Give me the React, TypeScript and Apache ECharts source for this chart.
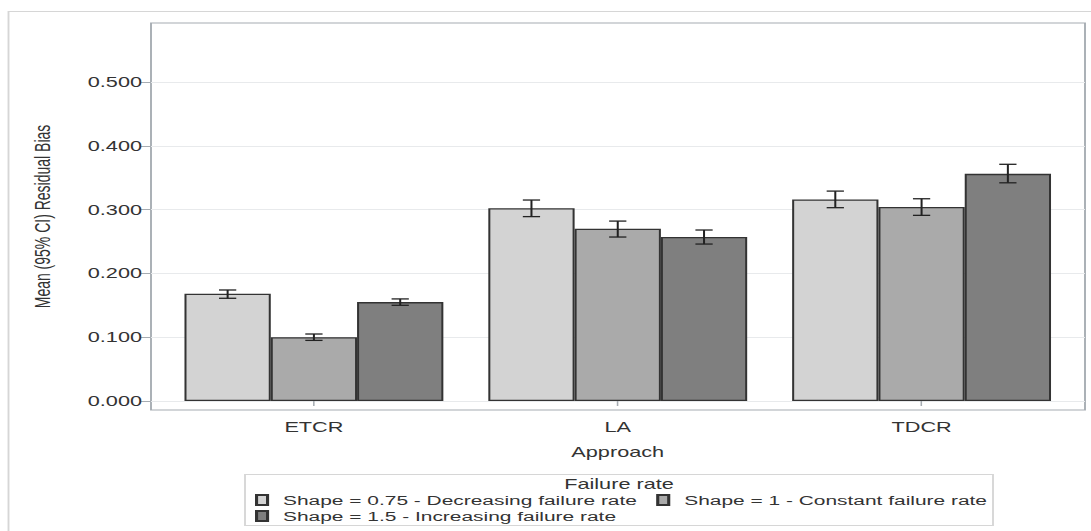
import React, { useEffect, useRef } from "react";
import * as echarts from "echarts";

// Approaches on the x axis
const categories = ["ETCR", "LA", "TDCR"];

// Failure-rate groups
const seriesNames = [
  "Shape = 0.75 - Decreasing failure rate",
  "Shape = 1 - Constant failure rate",
  "Shape = 1.5 - Increasing failure rate",
];

// Mean residual bias and 95% CI per group
const mean075 = [0.168, 0.302, 0.316];
const lower075 = [0.161, 0.289, 0.303];
const upper075 = [0.174, 0.315, 0.329];

const mean1 = [0.1, 0.27, 0.304];
const lower1 = [0.095, 0.257, 0.291];
const upper1 = [0.105, 0.282, 0.317];

const mean15 = [0.155, 0.257, 0.356];
const lower15 = [0.15, 0.246, 0.342];
const upper15 = [0.16, 0.268, 0.371];

const yTicks = [0, 0.1, 0.2, 0.3, 0.4, 0.5];

const barColors = ["#d3d3d3", "#aaaaaa", "#7f7f7f"];

// The figure is rendered narrow and stretched horizontally
const WIDTH = 1091;
const HEIGHT = 531;
const INNER_W = 704;
const SX = WIDTH / INNER_W;
const hx = (v: number) => v / SX;

const CAT_GAP = 0.148; // barCategoryGap fraction
const FONT = "'Liberation Sans', Arial, Helvetica, sans-serif";

function errorSeries(k: number, lo: number[], hi: number[]) {
  return {
    type: "custom",
    xAxisIndex: 2,
    yAxisIndex: 2,
    z: 5,
    silent: true,
    data: categories.map((_, i) => [i, lo[i], hi[i]]),
    encode: { x: 0, y: [1, 2] },
    renderItem: (_params: any, api: any) => {
      const xi = api.value(0);
      const pLo = api.coord([xi, api.value(1)]);
      const pHi = api.coord([xi, api.value(2)]);
      const band = api.size([1, 0])[0];
      const barW = (band * (1 - CAT_GAP)) / 3;
      const x = pLo[0] + (k - 1) * barW;
      const half = barW * 0.1;
      const style = { stroke: "#222", lineWidth: 1.3 };
      return {
        type: "group",
        children: [
          { type: "line", shape: { x1: x, y1: pLo[1], x2: x, y2: pHi[1] }, style },
          { type: "line", shape: { x1: x - half, y1: pHi[1], x2: x + half, y2: pHi[1] }, style },
          { type: "line", shape: { x1: x - half, y1: pLo[1], x2: x + half, y2: pLo[1] }, style },
        ],
      };
    },
  };
}

export default function App() {
  const ref = useRef<HTMLDivElement>(null);

  useEffect(() => {
    if (!ref.current) return;
    const chart = echarts.init(ref.current, undefined, { renderer: "svg" });

    const means = [mean075, mean1, mean15];

    const frameLeft = hx(151);
    const frameRight = INNER_W - hx(1085);
    const barLeft = hx(162);
    const barRight = INNER_W - hx(1073.5);

    const option: any = {
      animation: false,
      backgroundColor: "#ffffff",
      textStyle: { fontFamily: FONT, color: "#333" },
      grid: [
        // plot frame
        {
          left: frameLeft,
          right: frameRight,
          top: 23,
          bottom: HEIGHT - 410,
          show: true,
          borderColor: "#a6acb2",
          borderWidth: 1.2,
          backgroundColor: "transparent",
        },
        // value scale with ticks and grid lines
        { left: frameLeft, right: frameRight, top: 82, bottom: HEIGHT - 401 },
        // bars
        { left: barLeft, right: barRight, top: 82, bottom: HEIGHT - 401 },
      ],
      xAxis: [
        { type: "value", gridIndex: 0, show: false, min: 0, max: 1 },
        { type: "value", gridIndex: 1, show: false, min: 0, max: 1 },
        {
          type: "category",
          gridIndex: 2,
          data: categories,
          offset: 9,
          axisLine: { show: false },
          axisTick: {
            show: true,
            alignWithLabel: true,
            length: 5,
            lineStyle: { color: "#a6acb2", width: 1 },
          },
          axisLabel: { fontSize: 14, color: "#333", margin: 10 },
          name: "Approach",
          nameLocation: "middle",
          nameGap: 35,
          nameTextStyle: { fontSize: 14, color: "#333" },
        },
      ],
      yAxis: [
        {
          type: "value",
          gridIndex: 0,
          min: 0,
          max: 1,
          axisLine: { show: false },
          axisTick: { show: false },
          axisLabel: { show: false },
          splitLine: { show: false },
          name: "Mean (95% CI) Residual Bias",
          nameLocation: "middle",
          nameGap: 63,
          nameRotate: 90,
          nameTextStyle: { fontSize: 14, color: "#333" },
        },
        {
          type: "value",
          gridIndex: 1,
          min: yTicks[0],
          max: yTicks[yTicks.length - 1],
          interval: 0.1,
          axisLine: { show: false },
          axisTick: {
            show: true,
            length: hx(10),
            lineStyle: { color: "#a6acb2", width: 1 },
          },
          axisLabel: {
            fontSize: 14,
            color: "#333",
            margin: hx(9),
            formatter: (v: number) => v.toFixed(3),
          },
          splitLine: { show: true, lineStyle: { color: "#e8eaec", width: 1 } },
        },
        {
          type: "value",
          gridIndex: 2,
          min: yTicks[0],
          max: yTicks[yTicks.length - 1],
          show: false,
        },
      ],
      legend: [
        {
          data: [seriesNames[0], seriesNames[1]],
          left: hx(255),
          top: 493,
          orient: "horizontal",
          padding: 0,
          icon: "rect",
          itemWidth: hx(11),
          itemHeight: 10,
          itemGap: hx(19),
          textStyle: { fontSize: 13.5, color: "#333", padding: [0, 0, 0, 5] },
          selectedMode: false,
        },
        {
          data: [seriesNames[2]],
          left: hx(255),
          top: 509,
          orient: "horizontal",
          padding: 0,
          icon: "rect",
          itemWidth: hx(11),
          itemHeight: 10,
          textStyle: { fontSize: 13.5, color: "#333", padding: [0, 0, 0, 5] },
          selectedMode: false,
        },
      ],
      graphic: [
        {
          type: "rect",
          silent: true,
          shape: { x: hx(8.5), y: 11.5, width: INNER_W, height: HEIGHT },
          style: { fill: "none", stroke: "#d6d6d6", lineWidth: 1.2 },
        },
        {
          type: "rect",
          silent: true,
          shape: { x: hx(245), y: 474.5, width: hx(993 - 245), height: 51 },
          style: { fill: "none", stroke: "#d6d6d6", lineWidth: 1.2 },
        },
        {
          type: "text",
          silent: true,
          x: hx(619),
          y: 484,
          style: {
            text: "Failure rate",
            fontSize: 14,
            fontFamily: FONT,
            fill: "#333",
            align: "center",
            verticalAlign: "middle",
          },
        },
      ],
      series: [
        ...seriesNames.map((name, k) => ({
          type: "bar",
          name,
          xAxisIndex: 2,
          yAxisIndex: 2,
          data: means[k],
          barGap: "0%",
          barCategoryGap: `${CAT_GAP * 100}%`,
          itemStyle: {
            color: barColors[k],
            borderColor: "#333",
            borderWidth: 1.3,
          },
          emphasis: { disabled: true },
        })),
        errorSeries(0, lower075, upper075),
        errorSeries(1, lower1, upper1),
        errorSeries(2, lower15, upper15),
      ],
    };

    chart.setOption(option);
    return () => chart.dispose();
  }, []);

  return (
    <div
      ref={ref}
      style={{
        position: "absolute",
        left: 0,
        top: 0,
        width: INNER_W,
        height: HEIGHT,
        transform: `scaleX(${SX})`,
        transformOrigin: "0 0",
      }}
    />
  );
}
